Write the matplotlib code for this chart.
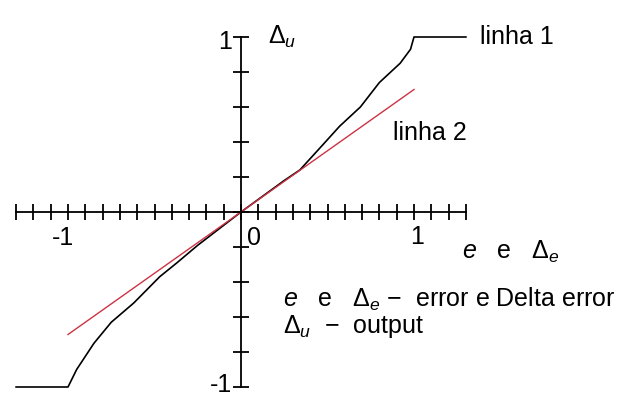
import matplotlib
matplotlib.use('Agg')
import matplotlib.pyplot as plt
import numpy as np

# linha 1 (black, saturating curve)
curve_x = [-1.3, -1.0, -0.95, -0.85, -0.75, -0.62, -0.47, -0.37, -0.25, 0.0,
           0.25, 0.34, 0.46, 0.57, 0.69, 0.80, 0.92, 0.98, 1.0, 1.3]
curve_y = [-1.0, -1.0, -0.90, -0.75, -0.63, -0.52, -0.37, -0.29, -0.19, 0.0,
           0.18, 0.24, 0.37, 0.49, 0.60, 0.74, 0.85, 0.93, 1.0, 1.0]

# linha 2 (red, straight line)
line_x = [-1.0, 1.0]
line_y = [-0.7, 0.7]

x_ticks = np.round(np.arange(-1.3, 1.31, 0.1), 2)
y_ticks = np.round(np.arange(-1.0, 1.01, 0.2), 2)

plt.rcParams['font.family'] = ['Liberation Sans', 'DejaVu Sans']
plt.rcParams['mathtext.fontset'] = 'custom'
plt.rcParams['mathtext.rm'] = 'Liberation Sans'
plt.rcParams['mathtext.it'] = 'Liberation Sans:italic'

fig = plt.figure(figsize=(6.35, 3.98), dpi=100)
ax = fig.add_axes([0, 0, 1, 1])
ax.set_xlim(-241 / 173, (635 - 241) / 173)
ax.set_ylim((212 - 398) / 175, 212 / 175)

ax.plot(curve_x, curve_y, color='black', lw=1.2)
ax.plot(line_x, line_y, color='#cc3344', lw=1.0)

# axes through the origin
for side in ['top', 'right']:
    ax.spines[side].set_visible(False)
ax.spines['left'].set_position(('data', 0))
ax.spines['bottom'].set_position(('data', 0))
ax.spines['left'].set_bounds(-1, 1)
ax.spines['bottom'].set_bounds(-1.3, 1.3)
ax.spines['left'].set_linewidth(1.3)
ax.spines['bottom'].set_linewidth(1.3)
ax.set_xticks(x_ticks)
ax.set_yticks(y_ticks)
ax.tick_params(direction='inout', length=12, width=1.3,
               labelbottom=False, labelleft=False)

fs = 18
ax.text(-0.05, 0.97, '1', fontsize=fs, ha='right', va='center')
ax.text(-0.05, -1.06, '-1', fontsize=fs, ha='right', va='bottom')
ax.text(-1.03, -0.15, '-1', fontsize=fs, ha='center', va='center')
ax.text(0.075, -0.15, '0', fontsize=fs, ha='center', va='center')
ax.text(1.017, -0.145, '1', fontsize=fs, ha='center', va='center')

ax.text(0.156, 1.0, r'$\Delta_u$', fontsize=fs, ha='left', va='center')
ax.text(1.275, -0.23, r'$e$   e   $\Delta_e$', fontsize=fs, ha='left', va='center')

ax.text(1.381, 1.0, 'linha 1', fontsize=fs, ha='left', va='center')
ax.text(0.879, 0.45, 'linha 2', fontsize=fs, ha='left', va='center')

ax.text(0.243, -0.50, r'$e$   e   $\Delta_e$ $-$  error e Delta error',
        fontsize=fs, ha='left', va='center')
ax.text(0.243, -0.655, r'$\Delta_u$  $-$  output', fontsize=fs, ha='left', va='center')

fig.savefig('out.png', dpi=100)
